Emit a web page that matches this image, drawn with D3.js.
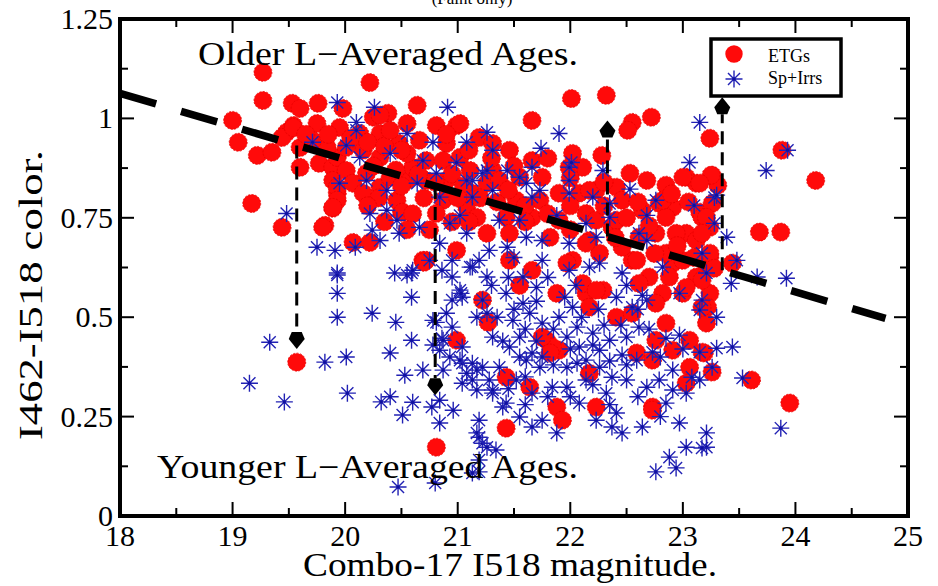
<!DOCTYPE html>
<html>
<head>
<meta charset="utf-8">
<script src="https://cdn.jsdelivr.net/npm/d3@7"></script>
<style>
  html, body { margin: 0; padding: 0; background: #fff; }
  svg { display: block; }
  text { font-family: "Liberation Serif", "DejaVu Serif", serif; fill: #000; }
</style>
</head>
<body>
<svg id="chart" width="938" height="586"></svg>
<script>
// ---------------- DATA ----------------
const xTicks = [18, 19, 20, 21, 22, 23, 24, 25];
const yTicks = [0, 0.25, 0.5, 0.75, 1, 1.25];
const yTickLabels = ["0", "0.25", "0.5", "0.75", "1", "1.25"];
const seriesNames = ["ETGs", "Sp+Irrs"];

// ETGs: [Combo-17 I518 magnitude, I462-I518 color]
const etgs = [
[19.27,1.116],[19.27,1.045],[19.00,0.995],[19.05,0.94],[19.22,0.907],[19.35,0.915],[19.17,0.786],[19.44,0.726],
[19.60,0.877],[19.53,1.038],[19.60,1.025],[19.76,1.038],[19.98,1.025],[20.22,1.09],[20.25,1.003],[20.38,1.013],
[20.64,1.033],[19.48,0.965],[19.54,0.982],[19.75,0.987],[19.44,0.952],[19.60,0.927],[19.77,0.887],[19.89,0.877],
[19.89,0.844],[19.93,0.812],[19.89,0.774],[19.82,0.731],[20.07,0.688],[20.22,0.688],[20.50,0.764],[20.69,0.643],
[21.22,0.543],[20.31,1.008],[19.54,0.977],[19.95,0.977],[20.13,0.962],[20.31,0.962],[20.55,0.987],[20.81,0.982],
[20.99,0.982],[20.48,0.937],[20.66,0.945],[20.90,0.937],[21.19,0.952],[21.31,0.937],[19.93,0.902],[20.01,0.869],
[19.93,0.827],[20.07,0.837],[19.93,0.794],[20.16,0.812],[20.31,0.827],[20.46,0.794],[20.55,0.844],[20.60,0.877],
[20.72,0.894],[20.87,0.894],[21.02,0.902],[20.55,0.912],[20.31,0.902],[20.16,0.92],[19.89,0.776],[19.80,0.726],
[20.51,0.764],[20.72,0.643],[20.99,0.668],[21.08,0.776],[21.13,0.812],[21.17,0.751],[21.26,0.711],[20.87,0.794],
[20.81,0.761],[21.26,0.837],[21.31,0.869],[21.11,0.869],[20.90,0.844],[20.72,0.844],[20.40,0.852],[20.19,0.862],
[20.01,0.927],[19.84,0.927],[19.71,0.945],
[22.01,1.05],[22.32,1.058],[21.66,0.995],[22.55,0.99],[22.51,0.97],[22.72,1.003],[23.24,0.95],[22.28,0.907],
[22.02,0.912],[22.11,0.877],[22.53,0.862],[21.99,0.877],[21.46,0.92],[21.66,0.894],[21.75,0.852],[21.55,0.852],
[21.37,0.844],[22.68,0.844],[22.85,0.832],[23.03,0.852],[23.12,0.837],[23.26,0.857],[22.41,0.827],[22.23,0.819],
[22.08,0.812],[21.90,0.812],[21.73,0.794],[21.52,0.794],[22.46,0.794],[22.79,0.786],[22.91,0.776],[23.15,0.764],
[23.26,0.786],[22.14,0.761],[21.90,0.744],[21.66,0.751],[21.43,0.751],[21.46,0.711],[21.82,0.701],[22.17,0.693],
[22.37,0.726],[22.61,0.701],[22.76,0.711],[23.03,0.711],[23.24,0.726],[22.26,0.661],[22.02,0.643],[21.66,0.618],
[22.55,0.643],[22.91,0.636],[23.21,0.626],[21.46,0.643],
[21.02,0.987],[22.64,0.769],[22.41,0.744],[22.23,0.744],[22.17,0.819],[22.14,0.686],[22.46,0.676],[22.59,0.643],
[22.70,0.601],[22.88,0.601],[23.00,0.56],[23.24,0.56],[23.44,0.636],[23.24,0.651],[23.12,0.601],[23.00,0.643],
[22.85,0.661],[23.17,0.751],[23.12,0.693],[22.94,0.711],[22.85,0.751],[22.82,0.794],[23.00,0.852],[23.31,0.832],
[23.88,0.92],[24.18,0.844],[23.68,0.714],[23.87,0.714],
[23.25,0.857],[23.15,0.837],[23.21,0.751],[23.17,0.711],[23.24,0.661],[23.28,0.623],[23.17,0.593],[23.22,0.525],
[23.21,0.485],[23.19,0.41],[23.26,0.362],[23.61,0.342],[23.95,0.284],
[21.55,0.58],[21.88,0.56],[22.14,0.56],[22.29,0.568],[22.61,0.585],[22.82,0.56],[22.76,0.535],[22.17,0.525],
[22.41,0.5],[22.55,0.51],[22.85,0.485],[23.17,0.525],[23.03,0.575],[21.79,0.442],[21.90,0.417],[22.76,0.442],
[22.91,0.417],[23.06,0.442],[23.17,0.412],[22.59,0.41],[22.73,0.392],[23.06,0.374],[23.03,0.334],[21.43,0.349],
[21.64,0.324],[22.17,0.359],[22.23,0.274],[21.88,0.274],[21.93,0.241],[22.73,0.274],[22.73,0.266],[21.43,0.221],
[21.84,0.425],[21.27,0.487],[20.99,0.442],[19.57,0.387],[20.81,0.173],[20.70,0.638],[21.97,0.636],[22.11,0.585],
[22.23,0.568],[21.75,0.45],[21.82,0.41],
[19.65,0.96],[19.85,0.96],[20.05,0.95],[20.20,0.94],[20.35,0.93],[20.50,0.92],[20.25,0.88],[20.45,0.87],
[20.65,0.86],[20.80,0.84],[20.95,0.86],[21.05,0.83],[21.20,0.80],[21.00,0.80],[20.70,0.80],[20.60,0.76],
[20.75,0.72],[20.95,0.74],[21.10,0.74],[21.35,0.79],[21.45,0.82],[21.60,0.78],[21.80,0.76],[22.00,0.78],
[22.30,0.78],[22.50,0.75],[22.70,0.73],[22.40,0.70],[22.00,0.72],[21.60,0.74],[21.30,0.90],[21.50,0.88],
[21.80,0.90],[22.00,0.85],[22.30,0.84],[22.60,0.79],[22.90,0.81],[23.05,0.79],[22.95,0.68],[22.75,0.66],
[23.10,0.65],[20.40,0.97],[20.90,0.96],[21.10,0.92],[20.30,0.80],[20.50,0.83],[20.20,0.78],[20.55,0.72],
[20.35,0.74]
];

// Sp+Irrs: [Combo-17 I518 magnitude, I462-I518 color]
const spirr = [
[19.93,1.04],[20.26,1.028],[20.10,0.99],[20.10,0.97],[20.01,0.932],[20.91,1.028],[21.26,0.965],[21.08,0.94],
[19.48,0.761],[19.75,0.676],[19.91,0.668],[19.93,0.611],[19.93,0.56],[20.59,0.55],[20.22,0.761],[20.37,0.769],
[20.46,0.744],[20.48,0.711],[20.24,0.719],[20.66,0.726],[20.44,0.611],[20.59,0.611],[20.75,0.643],[20.86,0.618],
[20.95,0.601],[21.02,0.568],[21.04,0.55],[21.13,0.626],[20.84,0.686],[20.93,0.736],[19.95,0.837],[20.19,0.844],
[20.40,0.912],[20.55,0.962],[20.69,0.894],[20.81,0.862],[20.64,0.837],[20.99,0.889],[21.13,0.844],
[19.33,0.437],[19.15,0.334],[19.46,0.287],[19.82,0.387],[20.01,0.40],[20.02,0.309],
[19.93,0.606],[19.93,0.50],[20.24,0.51],[20.45,0.487],[20.59,0.442],[20.40,0.41],[20.53,0.354],[20.32,0.287],
[20.40,0.30],[20.51,0.254],[20.60,0.286],[20.77,0.274],[20.84,0.291],[20.96,0.266],[20.84,0.234],[20.55,0.606],
[20.60,0.618],[20.78,0.492],[20.86,0.447],[20.84,0.417],[20.69,0.367],[20.87,0.367],[20.93,0.40],[21.04,0.384],
[21.17,0.367],[21.04,0.334],[21.17,0.317],[21.28,0.342],[21.31,0.309],[21.40,0.274],[21.19,0.241],[21.17,0.209],
[21.22,0.183],[21.34,0.166],[21.19,0.111],[20.47,0.073],[20.80,0.083],
[20.81,0.487],[20.78,0.43],[20.87,0.442],[20.95,0.475],[21.02,0.392],[21.04,0.425],[21.08,0.359],[21.13,0.384],
[21.13,0.342],[21.22,0.374],[21.31,0.317],[21.19,0.198],[21.26,0.173],[21.13,0.108],[21.19,0.141],[21.03,0.56],
[20.95,0.543],[21.22,0.543],[21.26,0.51],[21.17,0.50],[21.31,0.45],[20.90,0.51],
[21.43,0.56],[21.58,0.535],[21.70,0.575],[21.64,0.51],[21.49,0.492],[21.75,0.485],[21.90,0.50],[22.02,0.525],
[22.06,0.475],[21.97,0.45],[22.20,0.46],[22.35,0.442],[22.50,0.45],[22.61,0.475],[22.68,0.543],[22.55,0.525],
[22.41,0.55],[21.55,0.45],[21.46,0.425],[21.61,0.392],[21.73,0.374],[21.52,0.342],[21.43,0.284],[21.55,0.249],
[21.66,0.224],[21.75,0.241],[21.88,0.209],[22.06,0.384],[22.14,0.392],[22.26,0.374],[22.37,0.349],[22.50,0.342],
[22.32,0.309],[22.23,0.241],[22.41,0.259],[22.37,0.224],[22.46,0.209],[22.64,0.224],[22.68,0.324],[22.79,0.342],
[22.85,0.284],[22.91,0.317],[22.97,0.234],[23.08,0.349],[23.03,0.309],[21.97,0.324],[22.08,0.284],[21.84,0.324],
[21.66,0.309],[21.75,0.40],[21.97,0.374],[22.14,0.342],[22.26,0.417],[22.08,0.425],[22.59,0.392],[22.91,0.367],
[23.15,0.412],[23.26,0.374],[22.73,0.412],[22.46,0.405],[22.85,0.447],[22.97,0.455],[23.15,0.518],[23.21,0.209],
[23.21,0.173],[23.03,0.173],[22.88,0.148],[22.94,0.121],[22.76,0.111],[21.66,0.41],[21.37,0.374],
[23.15,0.99],[23.74,0.869],[23.93,0.92],[23.28,0.801],[23.28,0.736],[23.39,0.701],[23.17,0.661],[23.48,0.643],
[23.21,0.611],[23.43,0.585],[23.66,0.601],[23.92,0.598],[23.30,0.50],[23.17,0.543],[23.30,0.422],[23.44,0.425],
[23.15,0.342],[23.53,0.347],[23.87,0.221],[23.17,0.171],
[21.90,0.962],[21.74,0.925],[23.06,0.889],[23.10,0.781],[23.30,0.807],[22.68,0.756],[22.53,0.822],
[22.76,0.794],[21.99,0.877],[21.99,0.686],[21.55,0.852],[21.31,0.92],[21.22,0.862],[21.13,0.802],[21.02,0.756],
[21.37,0.744],[21.61,0.701],[21.75,0.693],[21.58,0.601],[21.28,0.668],[21.11,0.626],[20.95,0.643],[22.17,0.626],
[22.46,0.611],[22.82,0.626],[22.97,0.56],[22.64,0.555],[22.20,0.802],[22.35,0.786],[22.29,0.869],
[21.99,0.844],[21.73,0.819],[21.88,0.756],[22.14,0.736],
[21.44,0.869],[21.66,0.877],[21.61,0.837],[21.66,0.802],[22.01,0.889],[21.99,0.812],
[21.55,0.744],[22.23,0.701],[22.35,0.751],[22.61,0.711],
[22.68,0.693],[21.44,0.676],[21.75,0.643],[21.99,0.618],[22.26,0.636],
[20.78,0.94],[19.71,0.94],[20.13,0.902],[20.37,0.819],
[21.08,0.844],[21.26,0.869],[21.31,0.819],[20.84,0.802],
[20.31,0.693],[21.08,0.711],
[20.09,0.676],[21.19,0.643],[21.26,0.601],
[21.35,0.50],[21.50,0.52],[21.60,0.47],[21.70,0.54],[21.85,0.47],[21.95,0.55],[22.10,0.50],[22.25,0.52],
[22.30,0.48],[22.45,0.48],[21.40,0.44],[21.55,0.40],[21.70,0.44],[21.85,0.38],[22.00,0.42],[22.20,0.43],
[22.35,0.39],[22.50,0.38],[21.45,0.32],[21.60,0.35],[21.80,0.30],[22.00,0.30],[22.20,0.33],[22.35,0.28],
[21.60,0.28],[21.45,0.60],[21.80,0.60],[22.05,0.58],[22.50,0.58],[22.60,0.52],[22.70,0.47],[22.80,0.40],
[23.00,0.42],[22.60,0.30],[22.80,0.25],[21.30,0.58],[21.50,0.65]
];

// Dashed separating line (magnitude, color) end points
const divider = [[18.0, 1.063], [24.8, 0.497]];
// Arrows: magnitude, start color, tip color
const arrows = [
  {x: 19.57, from: 0.932, to: 0.42},
  {x: 20.80, from: 0.83, to: 0.304},
  {x: 22.33, from: 0.703, to: 0.995},
  {x: 23.35, from: 0.618, to: 1.053}
];

// ---------------- CHART ----------------
const svg = d3.select("#chart");
const X0 = 120, X1 = 908, Y0 = 516, Y1 = 19;
const x = d3.scaleLinear().domain([18, 25]).range([X0, X1]);
const y = d3.scaleLinear().domain([0, 1.25]).range([Y0, Y1]);

// clipped title text at top
svg.append("text").attr("x", 472).attr("y", 4).attr("text-anchor", "middle")
  .attr("font-size", 17).text("(Faint only)");

const plot = svg.append("g");
const clip = svg.append("clipPath").attr("id", "clip");
clip.append("rect").attr("x", X0).attr("y", Y1).attr("width", X1 - X0).attr("height", Y0 - Y1);

const pts = plot.append("g").attr("clip-path", "url(#clip)");

// ETG circles
pts.append("g").selectAll("circle").data(etgs).join("circle")
  .attr("cx", d => x(d[0])).attr("cy", d => y(d[1])).attr("r", 9)
  .attr("fill", "#ff0a0a").attr("stroke", "#e60000").attr("stroke-width", 0.8)
  .attr("stroke-dasharray", "2,1.5");

// Star path (8-armed asterisk)
const starR = 8.5, sd = starR * 0.7071;
const starPath = `M${-starR},0H${starR}M0,${-starR}V${starR}M${-sd},${-sd}L${sd},${sd}M${-sd},${sd}L${sd},${-sd}`;
const starCol = "#2222b4";

const stars = pts.append("g").selectAll("g").data(spirr).join("g")
  .attr("transform", d => `translate(${x(d[0])},${y(d[1])})`);
stars.append("path").attr("d", starPath).attr("stroke", starCol).attr("stroke-width", 1.4).attr("fill", "none");
stars.append("circle").attr("r", 1.6).attr("fill", "#1010a0");

// Dashed divider line
const line = d3.line().x(d => x(d[0])).y(d => y(d[1]));
plot.append("path").attr("d", line(divider)).attr("stroke", "#000")
  .attr("stroke-width", 7.5).attr("stroke-dasharray", "37.6,26").attr("fill", "none");

// Arrows
arrows.forEach(a => {
  const dir = a.to > a.from ? -1 : 1; // pixel direction: up = -1
  const tipY = y(a.to);
  const baseY = tipY - dir * 17;
  const ax = x(a.x);
  plot.append("line").attr("x1", ax).attr("x2", ax).attr("y1", y(a.from)).attr("y2", baseY)
    .attr("stroke", "#000").attr("stroke-width", 3).attr("stroke-dasharray", "13,8");
  plot.append("path")
    .attr("d", `M${ax},${tipY} L${ax - 8},${tipY - dir * 10} L${ax - 5},${baseY} L${ax + 5},${baseY} L${ax + 8},${tipY - dir * 10} Z`)
    .attr("fill", "#000");
});

// Frame
svg.append("rect").attr("x", X0).attr("y", Y1).attr("width", X1 - X0).attr("height", Y0 - Y1)
  .attr("fill", "none").attr("stroke", "#000").attr("stroke-width", 4);

// Ticks
const ticksG = svg.append("g").attr("stroke", "#000").attr("stroke-width", 2);
const xMinor = d3.range(18, 25.01, 0.5);
xMinor.forEach(v => {
  const major = Math.abs(v - Math.round(v)) < 1e-6;
  const L = major ? 14 : 8;
  ticksG.append("line").attr("x1", x(v)).attr("x2", x(v)).attr("y1", Y0).attr("y2", Y0 - L);
  ticksG.append("line").attr("x1", x(v)).attr("x2", x(v)).attr("y1", Y1).attr("y2", Y1 + L);
});
const yMinor = d3.range(0, 1.2501, 0.125);
yMinor.forEach((v, i) => {
  const major = i % 2 === 0;
  const L = major ? 14 : 8;
  ticksG.append("line").attr("x1", X0).attr("x2", X0 + L).attr("y1", y(v)).attr("y2", y(v));
  ticksG.append("line").attr("x1", X1).attr("x2", X1 - L).attr("y1", y(v)).attr("y2", y(v));
});

// Tick labels
svg.append("g").selectAll("text").data(xTicks).join("text")
  .attr("x", d => x(d)).attr("y", Y0 + 30).attr("text-anchor", "middle")
  .attr("font-size", 30).text(d => d);
svg.append("g").selectAll("text").data(yTicks).join("text")
  .attr("x", X0 - 7).attr("y", d => y(d) + 10).attr("text-anchor", "end")
  .attr("font-size", 30).text((d, i) => yTickLabels[i]);

// Axis titles
svg.append("text").attr("x", 510).attr("y", 576).attr("text-anchor", "middle")
  .attr("font-size", 33).attr("textLength", 414).attr("lengthAdjust", "spacingAndGlyphs")
  .text("Combo-17 I518 magnitude.");
svg.append("text").attr("transform", "translate(42,295) rotate(-90)").attr("text-anchor", "middle")
  .attr("font-size", 33).attr("textLength", 290).attr("lengthAdjust", "spacingAndGlyphs")
  .text("I462-I518 color.");

// Annotations
svg.append("text").attr("x", 198).attr("y", 65).attr("font-size", 33)
  .attr("textLength", 380).attr("lengthAdjust", "spacingAndGlyphs").text("Older L\u2212Averaged Ages.");
svg.append("text").attr("x", 157).attr("y", 478).attr("font-size", 33)
  .attr("textLength", 421).attr("lengthAdjust", "spacingAndGlyphs").text("Younger L\u2212Averaged Ages.");

// Legend
const lg = svg.append("g");
lg.append("rect").attr("x", 711).attr("y", 39).attr("width", 130).attr("height", 57)
  .attr("fill", "#fff").attr("stroke", "#000").attr("stroke-width", 3.5);
lg.append("circle").attr("cx", 734).attr("cy", 54).attr("r", 8.7).attr("fill", "#ff0a0a");
lg.append("path").attr("d", starPath).attr("transform", "translate(734,79)")
  .attr("stroke", starCol).attr("stroke-width", 1.4).attr("fill", "none");
lg.append("circle").attr("cx", 734).attr("cy", 79).attr("r", 1.6).attr("fill", "#1010a0");
lg.append("text").attr("x", 768).attr("y", 62).attr("font-size", 18).text(seriesNames[0]);
lg.append("text").attr("x", 768).attr("y", 84).attr("font-size", 18).text(seriesNames[1]);
</script>
</body>
</html>
